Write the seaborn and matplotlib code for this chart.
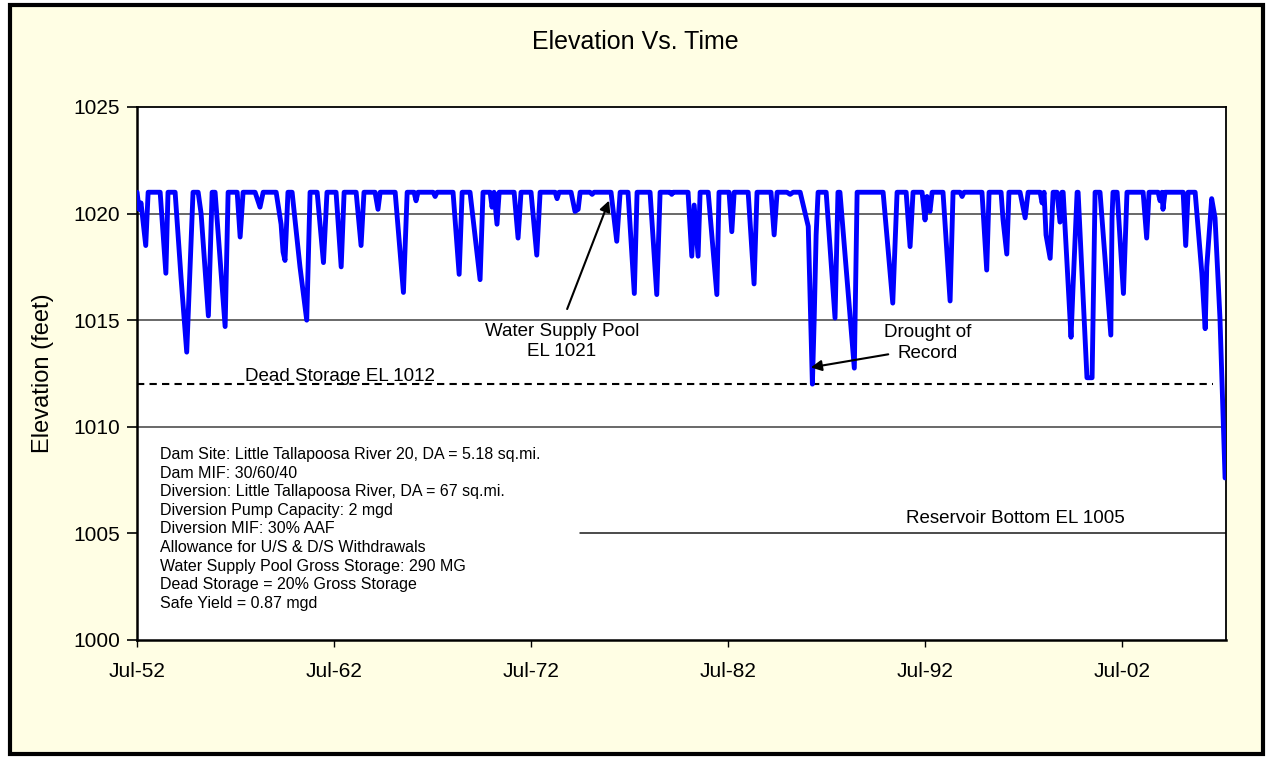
import pandas as pd
import matplotlib
matplotlib.use("Agg")
import matplotlib.pyplot as plt
import matplotlib.dates as mdates
from matplotlib.patches import Rectangle
import seaborn as sns

sns.set_style("white")
plt.rcParams["font.family"] = ["Liberation Sans", "DejaVu Sans"]
plt.rcParams.update({"text.color": "black", "axes.labelcolor": "black",
                     "xtick.color": "black", "ytick.color": "black"})

# reservoir elevation (ft), key points only
years = [1952.50, 1952.60, 1952.70, 1952.94, 1953.06,
         1953.67, 1953.96, 1954.07,
         1954.43, 1954.73, 1955.02, 1955.34,
         1955.60, 1955.75, 1956.12, 1956.31,
         1956.46, 1956.97, 1957.12,
         1957.58, 1957.73, 1957.88,
         1958.49, 1958.74, 1958.90,
         1959.56, 1959.81, 1959.91, 1960.01, 1960.16,
         1960.37, 1960.77, 1961.11, 1961.28,
         1961.64, 1961.96, 1962.14,
         1962.60, 1962.86, 1963.01,
         1963.62, 1963.87, 1964.02,
         1964.58, 1964.73, 1964.84,
         1965.60, 1966.02, 1966.21,
         1966.56, 1966.66, 1966.76,
         1967.53, 1967.63, 1967.73,
         1968.54, 1968.85, 1969.00,
         1969.40, 1969.91, 1970.06,
         1970.42, 1970.52, 1970.62, 1970.77, 1970.88,
         1971.64, 1971.84, 1971.99,
         1972.50, 1972.79, 1972.96,
         1973.72, 1973.82, 1973.92,
         1974.53, 1974.73, 1974.89, 1974.99,
         1975.49, 1975.60, 1975.70,
         1976.56, 1976.85, 1977.02,
         1977.42, 1977.74, 1977.88,
         1978.54, 1978.88, 1979.05,
         1979.56, 1979.64, 1979.71,
         1980.47, 1980.66, 1980.78, 1980.98, 1981.08,
         1981.49, 1981.93, 1982.04,
         1982.55, 1982.69, 1982.81,
         1983.52, 1983.82, 1983.97,
         1984.68, 1984.84, 1984.99,
         1985.49, 1985.65, 1985.80,
         1986.16, 1986.57, 1986.78, 1986.87, 1986.97, 1987.07,
         1987.48, 1987.93, 1988.08,
         1988.18, 1988.91, 1989.05,
         1990.37, 1990.86, 1991.08,
         1991.54, 1991.74, 1991.89,
         1992.35, 1992.50, 1992.60, 1992.75, 1992.86,
         1993.41, 1993.77, 1993.92,
         1994.28, 1994.38, 1994.48,
         1995.39, 1995.63, 1995.75,
         1996.36, 1996.46, 1996.65, 1996.76,
         1997.32, 1997.58, 1997.73,
         1998.34, 1998.44, 1998.54, 1998.64, 1998.85, 1999.00,
         1999.20, 1999.35, 1999.45,
         1999.51, 1999.91, 2000.01, 2000.22,
         2000.27, 2000.72, 2000.98, 2001.13,
         2001.38, 2001.93, 2001.99, 2002.04,
         2002.25, 2002.57, 2002.75,
         2003.57, 2003.75, 2003.87,
         2004.33, 2004.43, 2004.53, 2004.58, 2004.68,
         2005.60, 2005.73, 2005.85,
         2006.21, 2006.55, 2006.72, 2006.80, 2007.05, 2007.22, 2007.47, 2007.73]
elev = [1021, 1020.2, 1020.5, 1018.5, 1021,
        1021, 1017.2, 1021,
        1021, 1017.0, 1013.5, 1021,
        1021, 1020.0, 1015.2, 1021,
        1021, 1014.7, 1021,
        1021, 1018.9, 1021,
        1021, 1020.3, 1021,
        1021, 1019.5, 1018.2, 1017.8, 1021,
        1021, 1017.5, 1015.0, 1021,
        1021, 1017.7, 1021,
        1021, 1017.5, 1021,
        1021, 1018.5, 1021,
        1021, 1020.2, 1021,
        1021, 1016.3, 1021,
        1021, 1020.6, 1021,
        1021, 1020.8, 1021,
        1021, 1017.15, 1021,
        1021, 1016.9, 1021,
        1021, 1020.3, 1021, 1019.5, 1021,
        1021, 1018.85, 1021,
        1021, 1018.05, 1021,
        1021, 1020.7, 1021,
        1021, 1020.1, 1020.2, 1021,
        1021, 1020.9, 1021,
        1021, 1018.7, 1021,
        1021, 1016.25, 1021,
        1021, 1016.2, 1021,
        1021, 1020.9, 1021,
        1021, 1018.0, 1020.4, 1018.0, 1021,
        1021, 1016.2, 1021,
        1021, 1019.15, 1021,
        1021, 1016.7, 1021,
        1021, 1019.0, 1021,
        1021, 1020.9, 1021,
        1021, 1019.4, 1012.0, 1015.0, 1019.0, 1021,
        1021, 1015.1, 1021,
        1021, 1012.75, 1021,
        1021, 1015.8, 1021,
        1021, 1018.45, 1021,
        1021, 1019.7, 1020.8, 1020.1, 1021,
        1021, 1015.9, 1021,
        1021, 1020.8, 1021,
        1021, 1017.35, 1021,
        1021, 1019.7, 1018.1, 1021,
        1021, 1019.8, 1021,
        1021, 1020.5, 1021, 1019.0, 1017.9, 1021,
        1021, 1019.6, 1021,
        1021, 1014.2, 1016.5, 1021,
        1021, 1012.3, 1012.3, 1021,
        1021, 1014.3, 1019.8, 1021,
        1021, 1016.25, 1021,
        1021, 1018.85, 1021,
        1021, 1020.6, 1021, 1020.2, 1021,
        1021, 1018.5, 1021,
        1021, 1017.2, 1014.6, 1017.5, 1020.7, 1019.8, 1015.1, 1007.6]

tick_years = [1952, 1962, 1972, 1982, 1992, 2002]
y_ticks = [1000, 1005, 1010, 1015, 1020, 1025]
dead_storage = 1012
res_bottom = 1005
notes = ["Dam Site: Little Tallapoosa River 20, DA = 5.18 sq.mi.",
         "Dam MIF: 30/60/40",
         "Diversion: Little Tallapoosa River, DA = 67 sq.mi.",
         "Diversion Pump Capacity: 2 mgd",
         "Diversion MIF: 30% AAF",
         "Allowance for U/S & D/S Withdrawals",
         "Water Supply Pool Gross Storage: 290 MG",
         "Dead Storage = 20% Gross Storage",
         "Safe Yield = 0.87 mgd"]


def to_date(y):
    return pd.Timestamp(int(y), 1, 1) + pd.to_timedelta((y - int(y)) * 365.25, unit="D")


df = pd.DataFrame({"date": [to_date(y) for y in years], "elev": elev})

fig = plt.figure(figsize=(12.7, 7.57), dpi=100, facecolor="white")
fig.add_artist(Rectangle((0.0075, 0.004), 0.987, 0.989, transform=fig.transFigure,
                         facecolor="#fffee4", edgecolor="black", lw=3, zorder=-10))
ax = fig.add_axes([0.1079, 0.1546, 0.8575, 0.7041])
ax.set_facecolor("white")

# gridlines (the 1005 one is hidden behind the notes box on the left)
for g in [1010, 1015, 1020]:
    ax.axhline(g, color="0.25", lw=1.1, zorder=1)
ax.axhline(res_bottom, xmin=0.407, color="0.1", lw=1.1, zorder=1)

ax.hlines(dead_storage, to_date(1952.5), to_date(2007.1), colors="black",
          linestyles=(0, (3.5, 2.5)), lw=1.5, zorder=2)

sns.lineplot(data=df, x="date", y="elev", color="#0000FF", lw=3.5, ax=ax,
             sort=False, zorder=3)

ax.set_xlim(pd.Timestamp("1952-07-01"), to_date(2007.78))
ax.set_ylim(1000, 1025)
ax.set_yticks(y_ticks)
ax.set_xticks([pd.Timestamp(f"{y}-07-01") for y in tick_years])
ax.xaxis.set_major_formatter(mdates.DateFormatter("%b-%y"))
ax.tick_params(axis="y", direction="out", length=7, width=1.2, pad=5, labelsize=15, left=True)
ax.tick_params(axis="x", direction="out", length=5, width=1, pad=11, labelsize=15, bottom=True)
for s in ax.spines.values():
    s.set_visible(True)
    s.set_color("black")
    s.set_linewidth(1.3)
ax.spines["left"].set_linewidth(1.8)
ax.spines["bottom"].set_linewidth(1.8)

ax.set_xlabel("")
ax.set_ylabel("Elevation (feet)", fontsize=17, labelpad=14)
fig.text(0.5, 1 - 42 / 757, "Elevation Vs. Time", ha="center", va="center", fontsize=18)

ax.text(to_date(1974.07), 1014.0, "Water Supply Pool\nEL 1021", ha="center", va="center",
        fontsize=13.5, linespacing=1.3)
ax.annotate("", xy=(to_date(1976.51), 1020.73), xytext=(to_date(1974.28), 1015.4),
            arrowprops=dict(arrowstyle="-|>", color="black", lw=1.5, mutation_scale=16))
ax.text(to_date(1992.65), 1013.95, "Drought of\nRecord", ha="center", va="center",
        fontsize=13.5, linespacing=1.3)
ax.annotate("", xy=(to_date(1986.56), 1012.76), xytext=(to_date(1990.77), 1013.42),
            arrowprops=dict(arrowstyle="-|>", color="black", lw=1.5, mutation_scale=16))
ax.text(to_date(1957.98), 1012.15, "Dead Storage EL 1012", ha="left", va="baseline",
        fontsize=13.5)
ax.text(to_date(1991.54), 1005.72, "Reservoir Bottom EL 1005", ha="left", va="center",
        fontsize=13.5)
ax.text(to_date(1953.67), 1009.05, "\n".join(notes), ha="left", va="top",
        fontsize=11.5, linespacing=1.3)

fig.savefig("out.png", dpi=100, facecolor="white")
